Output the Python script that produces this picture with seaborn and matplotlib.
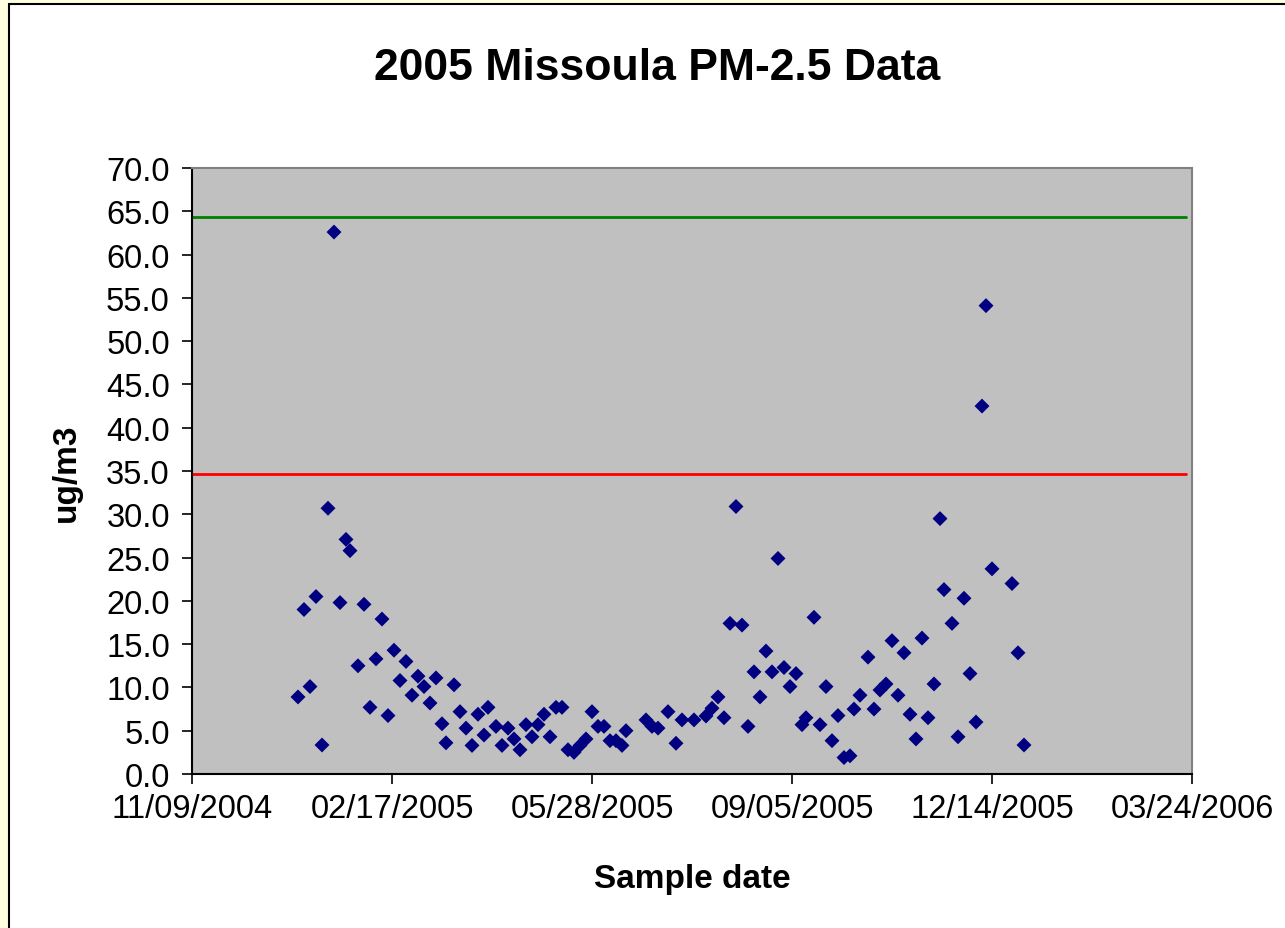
import numpy as np
import pandas as pd
import matplotlib
matplotlib.use("Agg")
import matplotlib.pyplot as plt
import matplotlib.dates as mdates
from matplotlib.patches import Rectangle
import seaborn as sns

# missoula pm2.5 2005 - gunler 1 ocak 2005'ten itibaren
gun = [0, 3, 6, 9, 12, 15, 18, 21, 24, 26,
       30, 33, 36, 39, 42, 45, 48, 51, 54, 57,
       60, 63, 66, 69, 72, 74, 78, 81, 84, 87,
       90, 93, 95, 99, 102, 105, 108, 111, 114, 117,
       120, 123, 126, 129, 132, 135, 138, 141, 144, 147,
       150, 153, 156, 159, 162, 164, 174, 177, 180, 185,
       189, 192, 198, 204, 207, 210, 213, 216, 219, 222,
       225, 228, 231, 234, 237, 240, 243, 246, 249, 252,
       254, 258, 261, 264, 267, 270, 273, 276, 278, 281,
       285, 288, 291, 294, 297, 300, 303, 306, 309, 312,
       315, 318, 321, 323, 327, 330, 333, 336, 339, 342,
       344, 347, 357, 360, 363]

pm25 = [8.9, 19.0, 10.1, 20.5, 3.35, 30.7, 62.6, 19.8, 27.1, 25.8,
        12.5, 19.6, 7.7, 13.3, 17.9, 6.75, 14.3, 10.8, 13.0, 9.1,
        11.3, 10.1, 8.2, 11.1, 5.8, 3.6, 10.3, 7.2, 5.3, 3.3,
        6.9, 4.5, 7.7, 5.5, 3.3, 5.3, 4.05, 2.8, 5.7, 4.3,
        5.7, 6.9, 4.3, 7.7, 7.7, 2.8, 2.5, 3.3, 4.05, 7.2,
        5.5, 5.5, 3.85, 3.85, 3.3, 5.0, 6.25, 5.5, 5.3, 7.2,
        3.55, 6.25, 6.25, 6.7, 7.6, 8.9, 6.5, 17.4, 30.9, 17.2,
        5.5, 11.8, 8.9, 14.2, 11.8, 24.9, 12.3, 10.1, 11.6, 5.7,
        6.5, 18.1, 5.7, 10.1, 3.85, 6.75, 1.9, 2.1, 7.5, 9.1,
        13.5, 7.5, 9.7, 10.4, 15.4, 9.1, 14.0, 6.9, 4.05, 15.7,
        6.5, 10.4, 29.5, 21.3, 17.4, 4.3, 20.3, 11.6, 6.0, 42.5,
        54.1, 23.7, 22.0, 14.0, 3.35]

# standart cizgileri (yesil eski 24 saat, kirmizi yeni)
cizgi_tarih = ["2004-11-09", "2006-03-21"]
yesil_seviye = [64.3, 64.3]
kirmizi_seviye = [34.7, 34.7]

x_etiket = ["2004-11-09", "2005-02-17", "2005-05-28", "2005-09-05", "2005-12-14", "2006-03-24"]

df = pd.DataFrame({
    "tarih": pd.Timestamp("2005-01-01") + pd.to_timedelta(gun, unit="D"),
    "pm25": pm25,
})

sns.set_theme(style="white")
plt.rcParams["font.family"] = ["Liberation Sans", "DejaVu Sans"]
plt.rcParams["text.color"] = "black"

fig = plt.figure(figsize=(12.85, 9.29), dpi=100)
fig.patch.set_facecolor("#FFFFE0")
# beyaz chart alani, siyah cerceve - eksenlerin arkasinda kalsin
fig.patches.append(Rectangle((9 / 1285, -0.01), 1.0, 1 - 5 / 929 + 0.01,
                             transform=fig.transFigure, facecolor="white",
                             edgecolor="black", lw=1.5, zorder=-5))

ax = fig.add_axes([192 / 1285, 1 - 775 / 929, 1000 / 1285, 606 / 929])
ax.set_zorder(2)
ax.set_facecolor("#C0C0C0")

sns.scatterplot(data=df, x="tarih", y="pm25", marker="D", s=58, color="#000080",
                edgecolor="none", ax=ax, zorder=3)
ax.plot(pd.to_datetime(cizgi_tarih), yesil_seviye, color="#008000", lw=2, zorder=2)
ax.plot(pd.to_datetime(cizgi_tarih), kirmizi_seviye, color="#FF0000", lw=2, zorder=2)

ax.set_xlim(pd.Timestamp(x_etiket[0]), pd.Timestamp(x_etiket[-1]))
ax.set_ylim(0, 70)
ax.set_xticks(pd.to_datetime(x_etiket))
ax.xaxis.set_major_formatter(mdates.DateFormatter("%m/%d/%Y"))
ax.set_yticks(np.arange(0, 70.1, 5))
ax.yaxis.set_major_formatter(matplotlib.ticker.FormatStrFormatter("%.1f"))

ax.tick_params(axis="both", bottom=True, left=True, direction="out", length=7,
               width=1.2, color="black", labelsize=23.5, labelcolor="black")
ax.tick_params(axis="y", pad=9)
ax.tick_params(axis="x", pad=7)

for s in ["left", "bottom"]:
    ax.spines[s].set_color("black")
    ax.spines[s].set_linewidth(1.5)
for s in ["top", "right"]:
    ax.spines[s].set_color("#808080")
    ax.spines[s].set_linewidth(1.5)

ax.set_xlabel("")
ax.set_ylabel("")
fig.text(657 / 1285, 1 - 68 / 929, "2005 Missoula PM-2.5 Data", ha="center", va="center",
         fontsize=32, fontweight="bold", color="black")
fig.text(692 / 1285, 1 - 880 / 929, "Sample date", ha="center", va="center",
         fontsize=24, fontweight="bold", color="black")
fig.text(66 / 1285, 1 - 473 / 929, "ug/m3", ha="center", va="center", rotation=90,
         fontsize=24, fontweight="bold", color="black")

fig.savefig("out.png", dpi=100, facecolor=fig.get_facecolor())
